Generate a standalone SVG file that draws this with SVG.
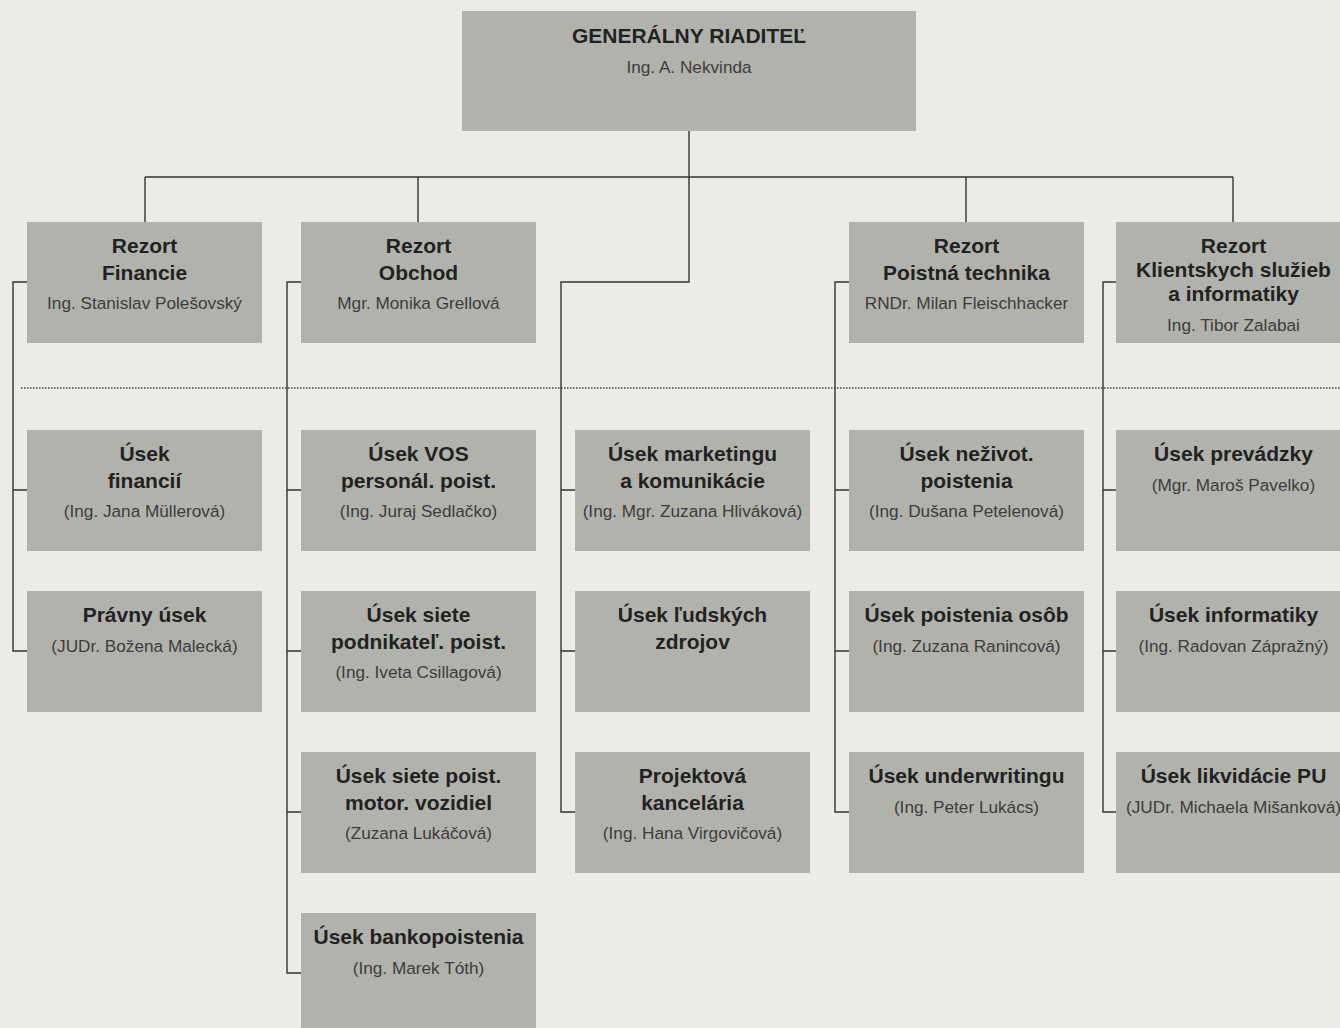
<svg xmlns="http://www.w3.org/2000/svg" width="1340" height="1028" viewBox="0 0 1340 1028">
<style>
.bg{fill:#ECEBE7}
.box{fill:#B2B2AC}
.t{font-family:"Liberation Sans",Arial,Helvetica,sans-serif;font-weight:bold;font-size:21px;fill:#222;text-anchor:middle}
.n{font-family:"Liberation Sans",Arial,Helvetica,sans-serif;font-size:17.2px;fill:#3c3c3c;text-anchor:middle}
.ln{fill:none;stroke:#333;stroke-width:1.4}
.dot{fill:none;stroke:#444;stroke-width:1.3;stroke-dasharray:1.5 1.5}
</style>
<rect class="bg" x="0" y="0" width="1340" height="1028"/>
<line class="dot" x1="21" y1="388" x2="1340" y2="388"/>
<g id="connectors">
<path class="ln" d="M689 131 V177 M145 177 H1233 M145 177 V222 M418 177 V222 M966 177 V222 M1233 177 V222"/>
<path class="ln" d="M689 177 V282 H561 V812 H575 M561 490 H575 M561 651 H575"/>
<path class="ln" d="M27 282 H13 V651 H27 M13 490 H27"/>
<path class="ln" d="M301 282 H287 V973 H301 M287 490 H301 M287 651 H301 M287 812 H301"/>
<path class="ln" d="M849 282 H835 V812 H849 M835 490 H849 M835 651 H849"/>
<path class="ln" d="M1116 282 H1103 V812 H1116 M1103 490 H1116 M1103 651 H1116"/>
</g>
<g id="gr"><rect class="box" x="462" y="11" width="454" height="120"/><text class="t" x="689" y="42.7">GENERÁLNY RIADITEĽ</text><text class="n" x="689" y="72.7">Ing. A. Nekvinda</text></g>
<g id="r1"><rect class="box" x="27" y="222" width="235" height="121"/><text class="t" x="144.5" y="252.7">Rezort</text><text class="t" x="144.5" y="279.5">Financie</text><text class="n" x="144.5" y="309">Ing. Stanislav Polešovský</text></g>
<g id="r2"><rect class="box" x="301" y="222" width="235" height="121"/><text class="t" x="418.5" y="252.7">Rezort</text><text class="t" x="418.5" y="279.5">Obchod</text><text class="n" x="418.5" y="309">Mgr. Monika Grellová</text></g>
<g id="r4"><rect class="box" x="849" y="222" width="235" height="121"/><text class="t" x="966.5" y="252.7">Rezort</text><text class="t" x="966.5" y="279.5">Poistná technika</text><text class="n" x="966.5" y="309">RNDr. Milan Fleischhacker</text></g>
<g id="r5"><rect class="box" x="1116" y="222" width="235" height="121"/><text class="t" x="1233.5" y="252.7">Rezort</text><text class="t" x="1233.5" y="277.3">Klientskych služieb</text><text class="t" x="1233.5" y="301">a informatiky</text><text class="n" x="1233.5" y="331">Ing. Tibor Zalabai</text></g>

<g id="u11"><rect class="box" x="27" y="430" width="235" height="121"/><text class="t" x="144.5" y="460.7">Úsek</text><text class="t" x="144.5" y="487.5">financií</text><text class="n" x="144.5" y="517">(Ing. Jana Müllerová)</text></g>
<g id="u12"><rect class="box" x="27" y="591" width="235" height="121"/><text class="t" x="144.5" y="621.5">Právny úsek</text><text class="n" x="144.5" y="652">(JUDr. Božena Malecká)</text></g>

<g id="u21"><rect class="box" x="301" y="430" width="235" height="121"/><text class="t" x="418.5" y="460.7">Úsek VOS</text><text class="t" x="418.5" y="487.5">personál. poist.</text><text class="n" x="418.5" y="517">(Ing. Juraj Sedlačko)</text></g>
<g id="u22"><rect class="box" x="301" y="591" width="235" height="121"/><text class="t" x="418.5" y="621.7">Úsek siete</text><text class="t" x="418.5" y="648.5">podnikateľ. poist.</text><text class="n" x="418.5" y="678">(Ing. Iveta Csillagová)</text></g>
<g id="u23"><rect class="box" x="301" y="752" width="235" height="121"/><text class="t" x="418.5" y="782.7">Úsek siete poist.</text><text class="t" x="418.5" y="809.5">motor. vozidiel</text><text class="n" x="418.5" y="839">(Zuzana Lukáčová)</text></g>
<g id="u24"><rect class="box" x="301" y="913" width="235" height="121"/><text class="t" x="418.5" y="943.5">Úsek bankopoistenia</text><text class="n" x="418.5" y="974">(Ing. Marek Tóth)</text></g>

<g id="u31"><rect class="box" x="575" y="430" width="235" height="121"/><text class="t" x="692.5" y="460.7">Úsek marketingu</text><text class="t" x="692.5" y="487.5">a komunikácie</text><text class="n" x="692.5" y="517">(Ing. Mgr. Zuzana Hliváková)</text></g>
<g id="u32"><rect class="box" x="575" y="591" width="235" height="121"/><text class="t" x="692.5" y="621.7">Úsek ľudských</text><text class="t" x="692.5" y="648.5">zdrojov</text></g>
<g id="u33"><rect class="box" x="575" y="752" width="235" height="121"/><text class="t" x="692.5" y="782.7">Projektová</text><text class="t" x="692.5" y="809.5">kancelária</text><text class="n" x="692.5" y="839">(Ing. Hana Virgovičová)</text></g>

<g id="u41"><rect class="box" x="849" y="430" width="235" height="121"/><text class="t" x="966.5" y="460.7">Úsek neživot.</text><text class="t" x="966.5" y="487.5">poistenia</text><text class="n" x="966.5" y="517">(Ing. Dušana Petelenová)</text></g>
<g id="u42"><rect class="box" x="849" y="591" width="235" height="121"/><text class="t" x="966.5" y="621.5">Úsek poistenia osôb</text><text class="n" x="966.5" y="652">(Ing. Zuzana Ranincová)</text></g>
<g id="u43"><rect class="box" x="849" y="752" width="235" height="121"/><text class="t" x="966.5" y="782.5">Úsek underwritingu</text><text class="n" x="966.5" y="813">(Ing. Peter Lukács)</text></g>

<g id="u51"><rect class="box" x="1116" y="430" width="235" height="121"/><text class="t" x="1233.5" y="460.5">Úsek prevádzky</text><text class="n" x="1233.5" y="491">(Mgr. Maroš Pavelko)</text></g>
<g id="u52"><rect class="box" x="1116" y="591" width="235" height="121"/><text class="t" x="1233.5" y="621.5">Úsek informatiky</text><text class="n" x="1233.5" y="652">(Ing. Radovan Zápražný)</text></g>
<g id="u53"><rect class="box" x="1116" y="752" width="235" height="121"/><text class="t" x="1233.5" y="782.5">Úsek likvidácie PU</text><text class="n" x="1233.5" y="813">(JUDr. Michaela Mišanková)</text></g>
</svg>
